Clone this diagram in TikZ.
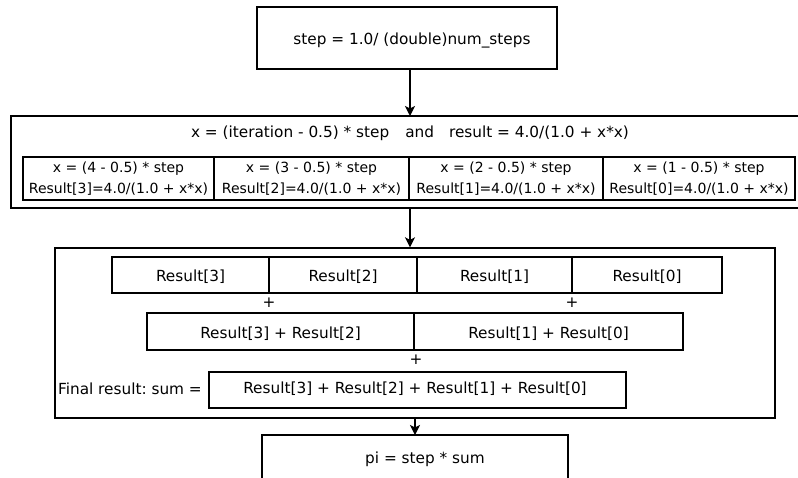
\documentclass[tikz,border=0pt]{standalone}
\usepackage{fontspec}
\setmainfont{DejaVu Sans}
\usetikzlibrary{arrows.meta}
\frenchspacing
\begin{document}
\begin{tikzpicture}[x=1pt,y=-1pt,
  frame/.style={draw, line width=1.4pt, inner sep=0pt},
  cell/.style={draw, line width=1.3pt, inner sep=0pt, text height=15pt, text depth=2pt, font=\fontsize{15.3}{18}\selectfont},
  small/.style={draw, line width=1.3pt, inner sep=0pt, align=center, font=\fontsize{14}{21}\selectfont},
  lbl/.style={inner sep=0pt, font=\fontsize{15.3}{18}\selectfont},
  arr/.style={line width=1.4pt, -{Stealth[length=10pt,width=10pt,inset=2.5pt]}}]
\useasboundingbox (0,0) rectangle (798,477);
\fill[white] (0,0) rectangle (798,477);

% top box
\node[frame, minimum width=300pt, minimum height=62pt] (top) at (407,38) {};
\node[lbl] (toptext) at (412,40) {step = 1.0/ (double)num\_steps};

% box 2 (open to the right)
\draw[line width=1.4pt] (800,116) -- (11,116) -- (11,208) -- (800,208);
\coordinate (b2top) at (410,116);
\coordinate (b2bot) at (410,208);
\node[lbl] (title) at (410,133) {x = (iteration - 0.5) * step\hspace{16pt}and\hspace{15pt}result = 4.0/(1.0 + x*x)};
\node[small, minimum width=191pt, minimum height=43pt] (c3) at (118.5,178.5) {x = (4 - 0.5) * step\\Result[3]=4.0/(1.0 + x*x)};
\node[small, minimum width=195pt, minimum height=43pt] (c2) at (311.5,178.5) {x = (3 - 0.5) * step\\Result[2]=4.0/(1.0 + x*x)};
\node[small, minimum width=194pt, minimum height=43pt] (c1) at (506,178.5) {x = (2 - 0.5) * step\\Result[1]=4.0/(1.0 + x*x)};
\node[small, minimum width=192pt, minimum height=43pt] (c0) at (699,178.5) {x = (1 - 0.5) * step\\Result[0]=4.0/(1.0 + x*x)};

% box 3
\node[frame, minimum width=720pt, minimum height=170pt] (box3) at (415,333) {};
\node[cell, minimum width=157pt, minimum height=36pt] (r3) at (190.5,275) {Result[3]};
\node[cell, minimum width=148pt, minimum height=36pt] (r2) at (343,275) {Result[2]};
\node[cell, minimum width=155pt, minimum height=36pt] (r1) at (494.5,275) {Result[1]};
\node[cell, minimum width=150pt, minimum height=36pt] (r0) at (647,275) {Result[0]};
\node[lbl] (p1) at (269,303) {+};
\node[lbl] (p2) at (572,303) {+};
\node[cell, minimum width=267pt, minimum height=37pt] (s32) at (280.5,331.5) {Result[3] + Result[2]};
\node[cell, minimum width=269pt, minimum height=37pt] (s10) at (548.5,331.5) {Result[1] + Result[0]};
\node[lbl] (p3) at (416,360) {+};
\node[cell, minimum width=417pt, minimum height=36pt] (sum) at (417.5,390) {};
\node[lbl] (sumtext) at (415,389) {Result[3] + Result[2] + Result[1] + Result[0]};
\node[lbl, anchor=east] (final) at (202,389) {Final result: sum =};

% box 4 (open at the bottom)
\draw[line width=1.4pt] (262,480) -- (262,435) -- (568,435) -- (568,480);
\coordinate (b4top) at (415,435);
\node[lbl] (pitext) at (425,459) {pi = step * sum};

% arrows
\draw[arr] (top.south -| b2top) -- (b2top);
\draw[arr] (b2bot) -- (b2bot |- box3.north);
\draw[arr] (box3.south -| b4top) -- (b4top);
\end{tikzpicture}
\end{document}
